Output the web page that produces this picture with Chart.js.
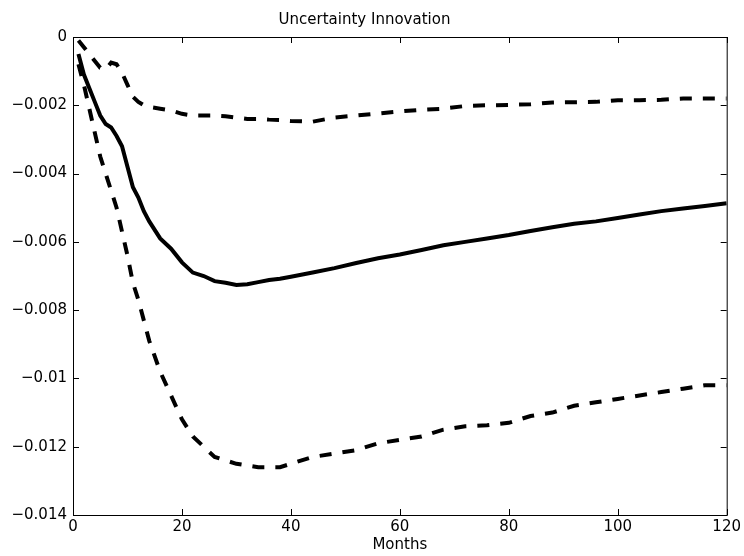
<!DOCTYPE html>
<html>
<head>
<meta charset="utf-8">
<script src="https://cdn.jsdelivr.net/npm/chart.js@4.4.1/dist/chart.umd.min.js"></script>
<style>
  html, body { margin: 0; padding: 0; background: #fff; }
  #graphique { display: block; }
</style>
</head>
<body>
<canvas id="graphique" width="744" height="556"></canvas>
<script>
// Mois (axe horizontal)
const mois = [1, 2, 3, 4, 5, 6, 7, 8, 9, 10, 11, 12, 13, 14, 16, 18, 20, 22, 24, 26, 28, 30,
  32, 34, 36, 38, 40, 44, 48, 52, 56, 60, 64, 68, 72, 76, 80, 84, 88, 92, 96, 100, 104, 108,
  112, 116, 120];

// Réponse estimée (trait plein)
const reponse = [-0.0005, -0.0011, -0.0015, -0.0019, -0.0023, -0.00255, -0.00265, -0.0029,
  -0.0032, -0.0038, -0.0044, -0.0047, -0.0051, -0.0054, -0.0059, -0.0062, -0.0066, -0.0069,
  -0.0070, -0.00715, -0.0072, -0.00726, -0.00724, -0.00718, -0.00712, -0.00708, -0.00702,
  -0.0069, -0.00677, -0.00662, -0.00648, -0.00637, -0.00624, -0.0061, -0.006, -0.0059,
  -0.0058, -0.00568, -0.00557, -0.00547, -0.0054, -0.0053, -0.0052, -0.0051, -0.00502,
  -0.00495, -0.00487];

// Bande supérieure (pointillés)
const bandeHaute = [-0.0001, -0.0003, -0.0005, -0.0007, -0.0009, -0.00095, -0.00075, -0.0008,
  -0.00105, -0.0014, -0.00175, -0.0019, -0.002, -0.00205, -0.0021, -0.00215, -0.00225, -0.0023,
  -0.0023, -0.0023, -0.00232, -0.00236, -0.0024, -0.0024, -0.00242, -0.00243, -0.00246,
  -0.00248, -0.00236, -0.0023, -0.00224, -0.00218, -0.00213, -0.0021, -0.00202, -0.002,
  -0.00199, -0.00197, -0.00192, -0.00191, -0.0019, -0.00185, -0.00185, -0.00184, -0.0018,
  -0.0018, -0.0018];

// Bande inférieure (pointillés)
const bandeBasse = [-0.0008, -0.0014, -0.0021, -0.0028, -0.0035, -0.0040, -0.0045, -0.0050,
  -0.0057, -0.0064, -0.0072, -0.0077, -0.0083, -0.0089, -0.0098, -0.0105, -0.0112, -0.0117,
  -0.0120, -0.0123, -0.0124, -0.0125, -0.01255, -0.0126, -0.0126, -0.0126, -0.0125, -0.0123,
  -0.0122, -0.0121, -0.0119, -0.0118, -0.0117, -0.0115, -0.0114, -0.01137, -0.0113, -0.0111,
  -0.0110, -0.0108, -0.0107, -0.0106, -0.0105, -0.0104, -0.0103, -0.0102, -0.0102];

// Étiquettes des axes
const xEtiquettes = ["0", "20", "40", "60", "80", "100", "120"];
const yEtiquettes = ["\u22120.014", "\u22120.012", "\u22120.01", "\u22120.008", "\u22120.006",
  "\u22120.004", "\u22120.002", "0"];

const police = "'DejaVu Sans', sans-serif";

function points(valeurs) {
  return mois.map((m, i) => ({ x: m, y: valeurs[i] }));
}

// Cadre + graduations intérieures façon MATLAB
const cadre = {
  id: "cadre",
  afterDraw(chart) {
    const { ctx, chartArea: a, scales } = chart;
    ctx.save();
    ctx.strokeStyle = "#000";
    ctx.lineWidth = 1;
    ctx.strokeRect(a.left + 0.5, a.top + 0.5, a.right - a.left, a.bottom - a.top);
    const t = 6;
    ctx.beginPath();
    scales.x.ticks.forEach(tk => {
      const px = Math.round(scales.x.getPixelForValue(tk.value)) + 0.5;
      ctx.moveTo(px, a.bottom); ctx.lineTo(px, a.bottom - t);
      ctx.moveTo(px, a.top); ctx.lineTo(px, a.top + t);
    });
    scales.y.ticks.forEach(tk => {
      const py = Math.round(scales.y.getPixelForValue(tk.value)) + 0.5;
      ctx.moveTo(a.left, py); ctx.lineTo(a.left + t, py);
      ctx.moveTo(a.right, py); ctx.lineTo(a.right - t, py);
    });
    ctx.stroke();
    ctx.restore();
  }
};

new Chart(document.querySelector("#graphique"), {
  type: "line",
  data: {
    datasets: [
      {
        label: "Réponse",
        data: points(reponse),
        borderColor: "#000",
        borderWidth: 4,
        pointRadius: 0,
        tension: 0,
      },
      {
        label: "Bande haute",
        data: points(bandeHaute),
        borderColor: "#000",
        borderWidth: 4,
        borderDash: [12, 11],
        pointRadius: 0,
        tension: 0,
      },
      {
        label: "Bande basse",
        data: points(bandeBasse),
        borderColor: "#000",
        borderWidth: 4,
        borderDash: [12, 11],
        pointRadius: 0,
        tension: 0,
      },
    ],
  },
  options: {
    responsive: false,
    animation: false,
    layout: { padding: { left: 0, right: 15, top: 0, bottom: 0 } },
    plugins: {
      legend: { display: false },
      tooltip: { enabled: false },
      title: {
        display: true,
        text: "Uncertainty Innovation",
        color: "#000",
        font: { family: police, size: 15, weight: "normal" },
        padding: { top: 11, bottom: 8 },
      },
    },
    scales: {
      x: {
        type: "linear",
        min: 0,
        max: 120,
        afterFit(scale) { scale.height = 41; },
        afterBuildTicks(scale) {
          scale.ticks = xEtiquettes.map(e => ({ value: Number(e) }));
        },
        grid: { display: false, drawTicks: false },
        border: { display: false },
        ticks: {
          color: "#000",
          padding: 3,
          maxRotation: 0,
          font: { family: police, size: 15 },
          callback: (v, i) => xEtiquettes[i],
        },
        title: {
          display: true,
          text: "Months",
          color: "#000",
          font: { family: police, size: 15 },
          padding: { top: 0, bottom: 2 },
        },
      },
      y: {
        type: "linear",
        min: -0.014,
        max: 0,
        afterFit(scale) { scale.width = 73; },
        afterBuildTicks(scale) {
          scale.ticks = yEtiquettes.map((e, i) => ({ value: -0.014 + i * 0.002 }));
        },
        grid: { display: false, drawTicks: false },
        border: { display: false },
        ticks: {
          color: "#000",
          padding: 6,
          font: { family: police, size: 15 },
          callback: (v, i) => yEtiquettes[i],
        },
      },
    },
  },
  plugins: [cadre],
});
</script>
</body>
</html>
